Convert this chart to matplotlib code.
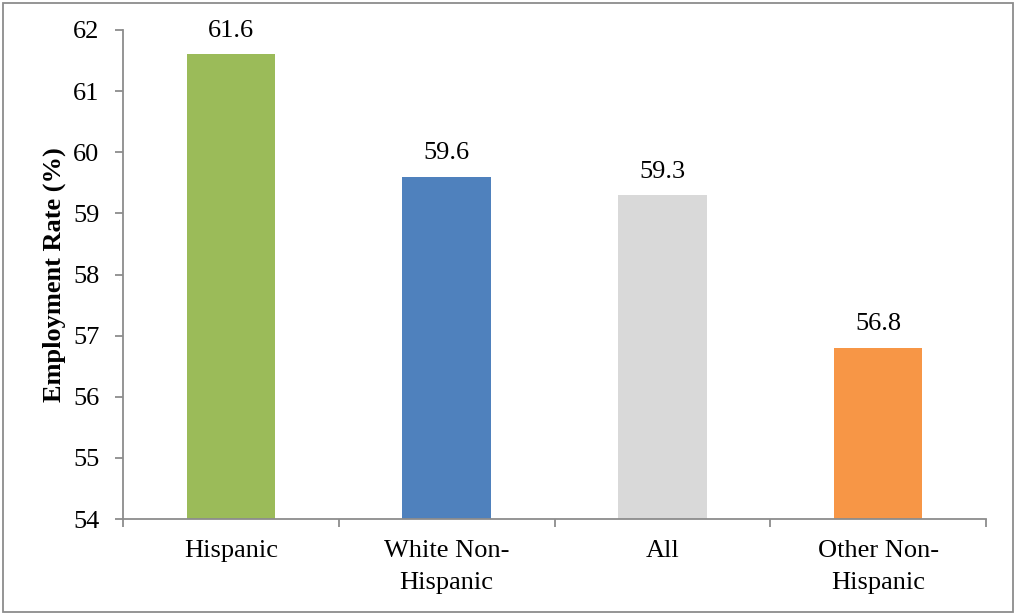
import matplotlib.pyplot as plt
from matplotlib.patches import Rectangle
from matplotlib.ticker import FixedLocator

plt.rcParams.update({
    "font.family": ["Liberation Serif", "DejaVu Serif"],
    "font.size": 19,
    "axes.edgecolor": "#8c8c8c",
    "axes.linewidth": 1.3,
    "xtick.color": "#8c8c8c",
    "ytick.color": "#8c8c8c",
    "xtick.labelcolor": "black",
    "ytick.labelcolor": "black",
})

groups = ["Hispanic", "White Non-\nHispanic", "All", "Other Non-\nHispanic"]
rates = [61.6, 59.6, 59.3, 56.8]
bar_colors = ["#9BBB59", "#4F81BD", "#D9D9D9", "#F79646"]
y_ticks = [54, 55, 56, 57, 58, 59, 60, 61, 62]

fig = plt.figure(figsize=(10.17, 6.14), dpi=100)
ax = fig.add_axes((123 / 1017, 1 - 519 / 614, 863 / 1017, 489 / 614))

pos = list(range(len(groups)))
ax.bar(pos, [r - 54 for r in rates], bottom=54, width=0.41, color=bar_colors, zorder=2)

for x, r in zip(pos, rates):
    ax.annotate(f"{r:.1f}", (x, r), xytext=(0, 12.5), textcoords="offset points",
                ha="center", va="baseline", fontsize=19)

ax.set_xlim(-0.5, len(groups) - 0.5)
ax.set_ylim(54, 62)
ax.set_yticks(y_ticks)
ax.set_xticks(pos)
ax.set_xticklabels(groups, linespacing=1.6)
ax.xaxis.set_minor_locator(FixedLocator([p - 0.5 for p in range(len(groups) + 1)]))
ax.tick_params(axis="x", which="major", length=0, pad=15)
ax.tick_params(axis="x", which="minor", length=6, width=1.3, direction="out")
ax.tick_params(axis="y", length=6, width=1.3, direction="out", pad=11)

for side in ("top", "right"):
    ax.spines[side].set_visible(False)

ax.set_ylabel("Employment Rate (%)", fontweight="bold", fontsize=19, labelpad=5)

# thin grey frame around the whole chart area
fig.add_artist(Rectangle((3 / 1017, 2 / 614), 1010 / 1017, 609 / 614,
                         transform=fig.transFigure, fill=False,
                         edgecolor="#8c8c8c", linewidth=1.3))

fig.savefig("out.png", dpi=100)
